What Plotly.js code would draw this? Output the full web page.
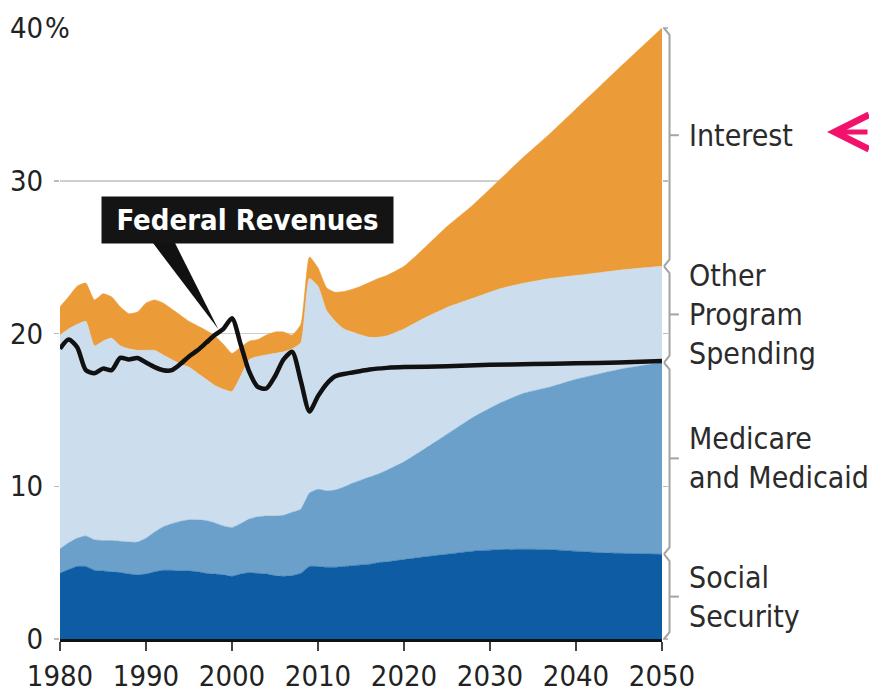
<!DOCTYPE html>
<html><head><meta charset="utf-8">
<script src="https://cdn.plot.ly/plotly-3.0.1.min.js"></script>
<style>html,body{margin:0;padding:0;background:#fff}#chart{width:869px;height:698px}</style>
</head><body><div id="chart"></div>
<script>
// ---- data (percent of GDP) ----
const years = [1980,1981,1982,1983,1984,1985,1986,1987,1988,1989,1990,1991,1992,1993,1994,1995,1996,1997,1998,1999,2000,2001,2002,2003,2004,2005,2006,2007,2008,2009,2010,2011,2012,2013,2014,2015,2016,2017,2018,2020,2022,2025,2028,2031,2034,2037,2040,2043,2046,2050];
const socialSecurity = [4.3,4.55,4.75,4.75,4.5,4.45,4.4,4.35,4.25,4.2,4.25,4.4,4.5,4.5,4.45,4.45,4.4,4.3,4.25,4.2,4.1,4.25,4.35,4.3,4.25,4.15,4.1,4.15,4.3,4.75,4.75,4.7,4.7,4.75,4.8,4.85,4.9,5.0,5.05,5.2,5.35,5.55,5.75,5.85,5.88,5.85,5.75,5.65,5.6,5.55];
const medicareMedicaid = [1.6,1.75,1.85,2.0,2.0,2.0,2.05,2.05,2.1,2.15,2.35,2.6,2.85,3.05,3.25,3.35,3.4,3.45,3.35,3.2,3.2,3.3,3.5,3.7,3.8,3.9,4.0,4.15,4.2,4.8,5.05,5.0,5.05,5.2,5.4,5.55,5.7,5.8,6.0,6.4,6.95,7.85,8.75,9.55,10.22,10.65,11.25,11.75,12.15,12.55];
const otherProgram = [14.0,14.0,14.0,14.05,12.7,13.05,13.25,12.8,12.65,12.55,12.3,11.9,11.25,10.75,10.3,10.0,9.6,9.25,9.0,8.95,8.9,9.65,10.45,10.5,10.55,10.65,10.7,10.7,10.9,14.05,13.3,11.8,11.05,10.35,9.9,9.5,9.15,8.95,8.8,8.7,8.6,8.3,7.8,7.5,7.2,7.1,6.8,6.6,6.45,6.3];
const interest = [1.85,2.1,2.5,2.5,3.0,3.1,2.7,2.55,2.3,2.5,3.1,3.3,3.4,3.3,3.2,3.0,3.1,3.2,3.25,2.95,2.5,1.9,1.2,1.1,1.3,1.4,1.3,0.9,1.2,1.4,1.2,1.5,1.9,2.45,2.8,3.2,3.6,3.85,3.95,4.1,4.5,5.3,6.1,7.1,8.3,9.5,10.9,12.3,13.7,15.6];

const revenueYears = [1980,1981,1982,1983,1984,1985,1986,1987,1988,1989,1990,1991,1992,1993,1994,1995,1996,1997,1998,1999,2000,2001,2002,2003,2004,2005,2006,2007,2008,2009,2010,2011,2012,2013,2014,2015,2016,2018,2020,2025,2030,2035,2040,2045,2050];
const federalRevenues = [19.0,19.6,19.1,17.6,17.4,17.7,17.6,18.4,18.3,18.4,18.1,17.8,17.6,17.6,18.0,18.5,18.9,19.4,19.9,20.3,21.0,19.3,17.5,16.5,16.4,17.2,18.3,18.8,16.9,14.9,15.9,16.7,17.2,17.35,17.45,17.55,17.65,17.75,17.8,17.85,17.95,18.0,18.05,18.1,18.2];

const xTickVals = [1980,1990,2000,2010,2020,2030,2040,2050];
const yTickVals = [0,10,20,30,40];
const yTickText = ['0','10','20','30','40'];
const seriesNames = ['Social Security','Medicare and Medicaid','Other Program Spending','Interest'];
const seriesLabels = ['Social<br>Security','Medicare<br>and Medicaid','Other<br>Program<br>Spending','Interest'];
const revenueLabel = 'Federal Revenues';

// ---- styling ----
const FONT = '"Liberation Sans Narrow", "DejaVu Sans Condensed", "Arial Narrow", sans-serif';
const colors = ['#0e5ca3','#6aa0ca','#ccdeed','#eb9b37'];
const seriesData = [socialSecurity, medicareMedicaid, otherProgram, interest];

const traces = seriesData.map((vals, i) => ({
  x: years, y: vals, name: seriesNames[i], type: 'scatter', mode: 'lines',
  stackgroup: 'spend', fillcolor: colors[i],
  line: {width: 0.5, color: colors[i], shape: 'spline', smoothing: 0.5},
  hoverinfo: 'skip'
}));
traces.push({
  x: revenueYears, y: federalRevenues, name: revenueLabel, type: 'scatter', mode: 'lines',
  line: {color: '#111', width: 4.5, shape: 'spline', smoothing: 0.7}, hoverinfo: 'skip'
});

// bracket boundaries from the last data point of each series
const last = seriesData.map(a => a[a.length - 1]);
const bounds = [0];
last.forEach(v => bounds.push(bounds[bounds.length - 1] + v));
const xn = 1.0033, xb = 1.0125, xt = 1.028, e = 0.45;
const midFrac = [0.5, 0.5, 0.5, 0.55];
const shapes = [];
const annotations = [];
for (let i = 0; i < 4; i++) {
  const lo = bounds[i], hi = bounds[i + 1];
  const m = lo + (hi - lo) * midFrac[i];
  shapes.push({type: 'path', xref: 'paper', yref: 'y',
    path: `M ${xn},${lo} L ${xb},${lo + e} L ${xb},${hi - e} L ${xn},${hi}`,
    line: {color: '#a3a3a3', width: 2}});
  shapes.push({type: 'path', xref: 'paper', yref: 'y',
    path: `M ${xb},${m} L ${xt},${m}`, line: {color: '#a3a3a3', width: 2}});
  annotations.push({xref: 'paper', yref: 'y', x: 1.041, y: m, xanchor: 'left', yanchor: 'middle',
    align: 'left', showarrow: false, text: seriesLabels[i],
    font: {family: FONT, size: 30, color: '#2b2b2b'}});
}
// pointer wedge from the revenue label
shapes.push({type: 'path', xref: 'x', yref: 'y',
  path: 'M 1990.7,26.0 L 1993.3,26.0 L 1998.4,20.3 Z', fillcolor: '#111', line: {width: 0}});

annotations.push({xref: 'x', yref: 'y', x: 2001.8, y: 27.4, showarrow: false,
  text: '<b>' + revenueLabel + '</b>', font: {family: FONT, size: 29, color: '#fff'},
  bgcolor: '#141414', width: 291, height: 46, borderpad: 0});
annotations.push({xref: 'paper', yref: 'y', x: -0.0275, y: 40, xanchor: 'left', yanchor: 'middle',
  showarrow: false, text: '%', bgcolor: '#fff', borderpad: 1, font: {family: FONT, size: 29, color: '#222'}});
annotations.push({xref: 'paper', yref: 'paper', x: 1.2741, y: 0.8298, text: '', showarrow: true,
  ax: 48, ay: 0, arrowhead: 5, arrowsize: 1.35, arrowwidth: 5, arrowcolor: '#f2126c', standoff: 0});

const layout = {
  width: 869, height: 698,
  margin: {l: 60, r: 207, t: 28, b: 59},
  paper_bgcolor: '#fff', plot_bgcolor: '#fff',
  showlegend: false,
  font: {family: FONT, color: '#222'},
  xaxis: {range: [1980, 2050], tickvals: xTickVals, ticks: 'outside', ticklen: 9, tickwidth: 2,
    tickcolor: '#444', showline: true, linecolor: '#111', linewidth: 3, showgrid: false,
    zeroline: false, tickfont: {family: FONT, size: 29, color: '#222'}, fixedrange: true},
  yaxis: {range: [0, 40], tickvals: yTickVals, ticktext: yTickText, ticks: 'outside', ticklen: 5,
    tickwidth: 1.5, tickcolor: '#bbb', mirror: 'ticks', showgrid: true, gridcolor: '#cfcfcf',
    gridwidth: 1.5, zeroline: false, showline: false, ticklabelstandoff: 5,
    tickfont: {family: FONT, size: 29, color: '#222'}, fixedrange: true},
  shapes: shapes,
  annotations: annotations
};
Plotly.newPlot('chart', traces, layout, {staticPlot: true, displayModeBar: false});
</script></body></html>
